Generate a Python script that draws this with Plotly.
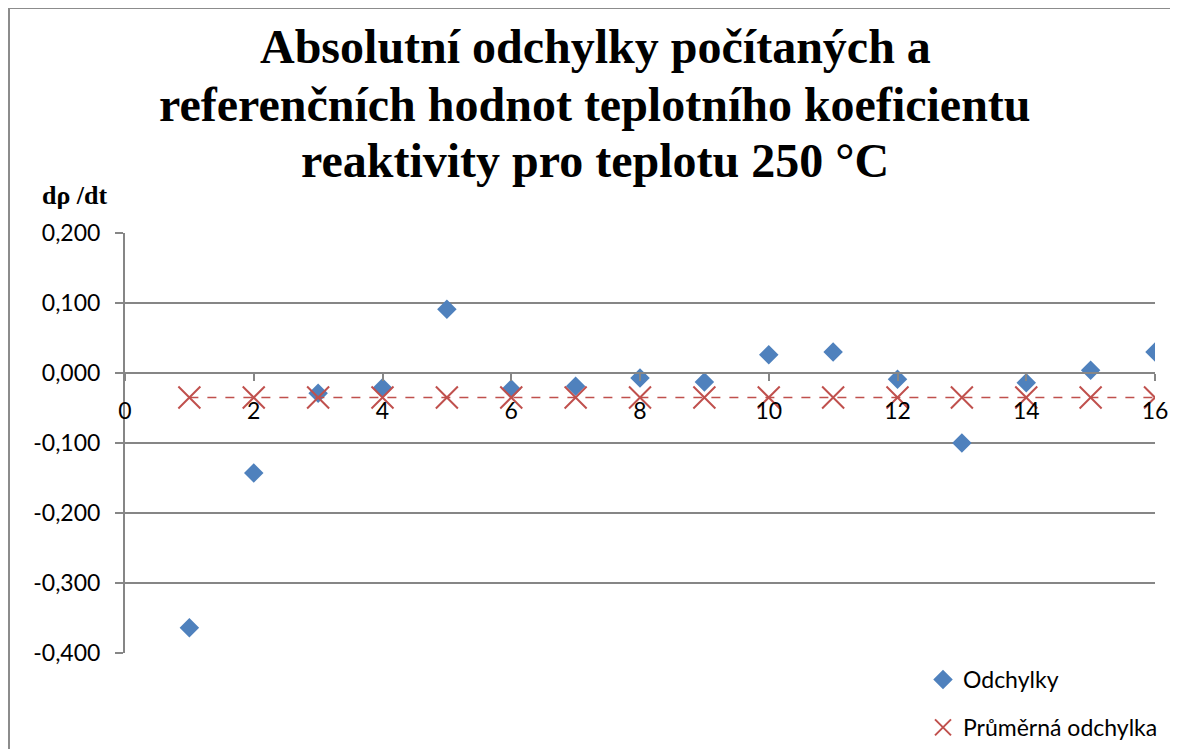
import plotly.graph_objects as go

x_vals = list(range(1, 17))
odchylky = [-0.364, -0.143, -0.029, -0.021, 0.091, -0.023, -0.019, -0.007,
            -0.013, 0.026, 0.030, -0.009, -0.100, -0.014, 0.004, 0.030]
prumer = [-0.035] * 16
y_ticks = [0.2, 0.1, 0.0, -0.1, -0.2, -0.3, -0.4]
y_labels = ["0,200", "0,100", "0,000", "-0,100", "-0,200", "-0,300", "-0,400"]
x_ticks = list(range(0, 17, 2))

title_lines = ["Absolutní odchylky počítaných a",
               "referenčních hodnot teplotního koeficientu",
               "reaktivity pro teplotu 250 °C"]

# page has an 8px body margin; figure coordinates = screen - 8
W, H = 1170, 741
LEFT, RIGHT, TOP, BOTTOM = 117, 23, 225, 96
plot_w = W - LEFT - RIGHT
plot_h = H - TOP - BOTTOM

def px(x):  # screen x -> paper
    return (x - 8 - LEFT) / plot_w

def py(y):  # screen y -> paper
    return 1 - (y - 8 - TOP) / plot_h

grid = "#868686"
red = "#C0504D"
serif = "'Liberation Serif', 'Times New Roman', serif"
label_font = dict(family="Lato, Carlito, 'Noto Sans', sans-serif", size=23, color="black")

fig = go.Figure()
fig.add_trace(go.Scatter(
    x=x_vals, y=odchylky, mode="markers", name="Odchylky", legendgroup="a",
    marker=dict(symbol="diamond", size=15, color="#4F81BD", line=dict(width=0)),
))
fig.add_trace(go.Scatter(
    x=x_vals, y=prumer, mode="lines", name="Průměrná odchylka", legendgroup="b",
    showlegend=False, line=dict(color=red, width=1.5, dash="dash"),
))
fig.add_trace(go.Scatter(
    x=x_vals, y=prumer, mode="markers", name="Průměrná odchylka", legendgroup="b",
    marker=dict(symbol="x-thin-open", size=22, color=red,
                line=dict(width=2, color=red)),
))

annotations = []
for text, base in zip(title_lines, [61, 119, 176]):
    annotations.append(dict(text="<b>" + text + "</b>", xref="paper", yref="paper",
                            x=px(595), y=py(base - 15), xanchor="center", yanchor="middle",
                            showarrow=False,
                            font=dict(family=serif, size=48, color="black")))
annotations.append(dict(text="<b>dρ /dt</b>", xref="paper", yref="paper",
                        x=px(75), y=py(195), xanchor="center", yanchor="middle",
                        showarrow=False, font=dict(family=serif, size=26, color="black")))

ymin, ymax = -0.4, 0.2
fig.update_layout(
    width=W, height=H,
    margin=dict(l=LEFT, r=RIGHT, t=TOP, b=BOTTOM, pad=0, autoexpand=False),
    paper_bgcolor="white", plot_bgcolor="white",
    showlegend=True,
    legend=dict(x=px(923), xanchor="left",
                y=py(658), yanchor="top",
                font=dict(label_font, size=23), bgcolor="rgba(0,0,0,0)",
                itemwidth=30, tracegroupgap=15),
    xaxis=dict(range=[0, 16], tickvals=x_ticks, ticktext=[str(v) for v in x_ticks],
               anchor="free", position=(0 - ymin) / (ymax - ymin),
               showline=True, linecolor=grid, linewidth=2,
               ticks="outside", ticklen=7, tickwidth=2, tickcolor=grid,
               showgrid=False, zeroline=False, tickfont=label_font,
               ticklabelstandoff=10),
    yaxis=dict(range=[ymin, ymax], tickvals=y_ticks, ticktext=y_labels,
               showline=True, linecolor=grid, linewidth=2,
               ticks="outside", ticklen=8, tickwidth=2, tickcolor=grid,
               showgrid=True, gridcolor=grid, gridwidth=2, zeroline=False,
               tickfont=label_font, ticklabelstandoff=10),
    annotations=annotations,
    shapes=[dict(type="rect", xref="paper", yref="paper",
                 x0=px(9), x1=1.2,
                 y0=-0.5, y1=py(8),
                 line=dict(color="#8C8C8C", width=2), layer="below")],
)

fig.write_html("out.html")
